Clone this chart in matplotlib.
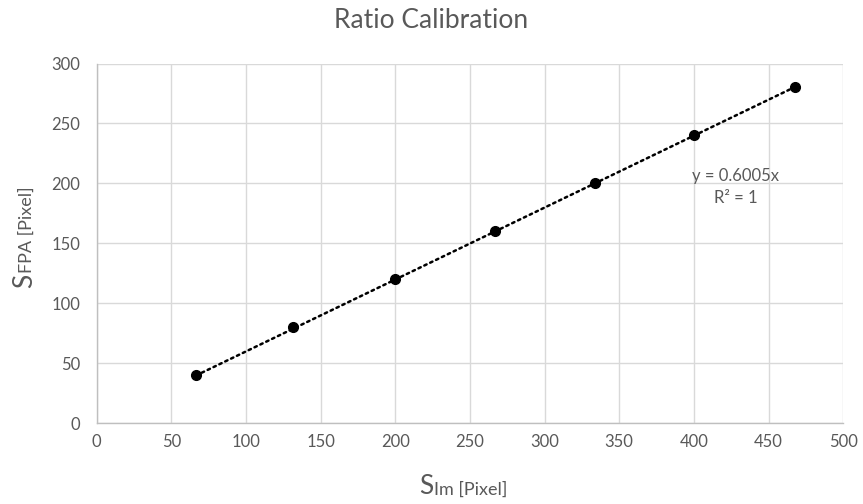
import numpy as np
import matplotlib
matplotlib.use("Agg")
import matplotlib.pyplot as plt

# Data
s_im = [66.5, 131.5, 200, 267, 334, 400, 467.5]
s_fpa = [40, 80, 120, 160, 200, 240, 280]
x_ticks = [0, 50, 100, 150, 200, 250, 300, 350, 400, 450, 500]
y_ticks = [0, 50, 100, 150, 200, 250, 300]
title = "Ratio Calibration"
eq_text = "y = 0.6005x\nR² = 1"

plt.rcParams['font.family'] = ['Lato', 'DejaVu Sans']

grey = '#595959'
fig = plt.figure(figsize=(8.63, 5.04), dpi=100)
ax = fig.add_axes([0.112, 0.160, 0.865, 0.714])

x = np.array(s_im, dtype=float)
y = np.array(s_fpa, dtype=float)
slope = np.sum(x * y) / np.sum(x * x)
xt = np.array([x.min(), x.max()])
ax.plot(xt, slope * xt, color='black', linewidth=1.8,
        linestyle=(0, (1, 1.6)), dash_capstyle='round', zorder=2)
ax.plot(x, y, 'o', color='black', markersize=7, zorder=3)

ax.set_xlim(0, 500)
ax.set_ylim(0, 300)
ax.set_xticks(x_ticks)
ax.set_yticks(y_ticks)
ax.grid(True, color='#d9d9d9', linewidth=1)
ax.set_axisbelow(True)
for s in ['top', 'right']:
    ax.spines[s].set_visible(False)
for s in ['left', 'bottom']:
    ax.spines[s].set_color('#bfbfbf')
    ax.spines[s].set_linewidth(1)
ax.tick_params(length=0, labelsize=12, labelcolor=grey)
ax.tick_params(axis='x', pad=8)
ax.tick_params(axis='y', pad=12)

ax.text(428, 197, eq_text, ha='center', va='center', fontsize=12,
        color=grey, linespacing=1.4)

fig.text(0.5, 0.9438, title, ha='center', va='baseline', fontsize=19, color=grey)

# x-axis label: big S + smaller subscript on same baseline
fig.text(0.5027, 0.0192, 'S', ha='right', va='baseline', fontsize=19,
         color=grey)
fig.text(0.5027, 0.0192, 'Im [Pixel]', ha='left', va='baseline',
         fontsize=13, color=grey)

# y-axis label, rotated
fig.text(0.0367, 0.4575, 'S', ha='right', va='baseline', fontsize=19,
         color=grey, rotation=90, rotation_mode='anchor')
fig.text(0.0367, 0.4575, 'FPA [Pixel]', ha='left', va='baseline',
         fontsize=13, color=grey, rotation=90, rotation_mode='anchor')

fig.savefig('out.png', dpi=100)
